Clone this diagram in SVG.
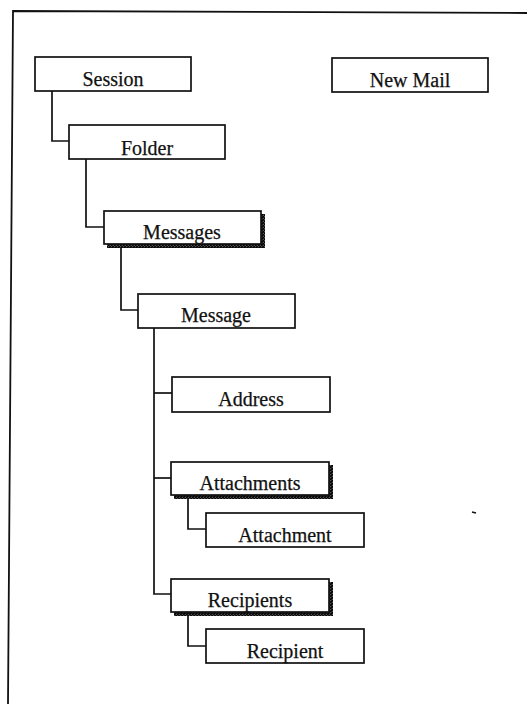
<svg xmlns="http://www.w3.org/2000/svg" width="527" height="704" viewBox="0 0 527 704">
<defs>
<pattern id="hatch" width="3" height="3" patternUnits="userSpaceOnUse">
<rect width="3" height="3" fill="#555"/>
<path d="M0,3 L3,0" stroke="#000" stroke-width="1.6"/>
</pattern>
<style>
.box{fill:#fff;stroke:#111;stroke-width:1.7}
.shadow{fill:url(#hatch);stroke:none}
.lbl{font-family:"Liberation Serif","DejaVu Serif",serif;font-size:20px;fill:#111;text-anchor:middle;stroke:#111;stroke-width:0.25}
.conn{fill:none;stroke:#111;stroke-width:1.7}
.frame{fill:none;stroke:#111;stroke-width:1.8}
</style>
</defs>
<rect width="527" height="704" fill="#fff"/>
<path class="frame" d="M527,13 L13,11 L8,704"/>
<g id="connectors">
<path class="conn" d="M52,91 V141 H69"/>
<path class="conn" d="M86,159 V227 H104"/>
<path class="conn" d="M121,244 V310 H138"/>
<path class="conn" d="M154,328 V594 H171"/>
<path class="conn" d="M154,393 H172"/>
<path class="conn" d="M154,478 H171"/>
<path class="conn" d="M188,498 V529 H206"/>
<path class="conn" d="M188,615 V646 H206"/>
</g>
<g id="session"><rect class="box" x="35" y="57" width="156" height="34"/><text class="lbl" x="113" y="86">Session</text></g>
<g id="newmail"><rect class="box" x="332" y="58" width="156" height="34"/><text class="lbl" x="410" y="87">New Mail</text></g>
<g id="folder"><rect class="box" x="69" y="125" width="156" height="34"/><text class="lbl" x="147" y="155">Folder</text></g>
<g id="messages"><rect class="shadow" x="107" y="214" width="158" height="34"/><rect class="box" x="104" y="211" width="157" height="33"/><text class="lbl" x="182" y="239">Messages</text></g>
<g id="message"><rect class="box" x="138" y="294" width="157" height="34"/><text class="lbl" x="216" y="322">Message</text></g>
<g id="address"><rect class="box" x="172" y="377" width="158" height="35"/><text class="lbl" x="251" y="406">Address</text></g>
<g id="attachments"><rect class="shadow" x="174" y="465" width="159" height="34"/><rect class="box" x="171" y="462" width="158" height="33"/><text class="lbl" x="250" y="490">Attachments</text></g>
<g id="attachment"><rect class="box" x="206" y="513" width="158" height="34"/><text class="lbl" x="285" y="542">Attachment</text></g>
<g id="recipients"><rect class="shadow" x="174" y="582" width="159" height="34"/><rect class="box" x="171" y="579" width="158" height="33"/><text class="lbl" x="250" y="607">Recipients</text></g>
<g id="recipient"><rect class="box" x="206" y="629" width="158" height="34"/><text class="lbl" x="285" y="658">Recipient</text></g>
<path d="M472,512 L476,513" stroke="#111" stroke-width="1.5"/>
</svg>
